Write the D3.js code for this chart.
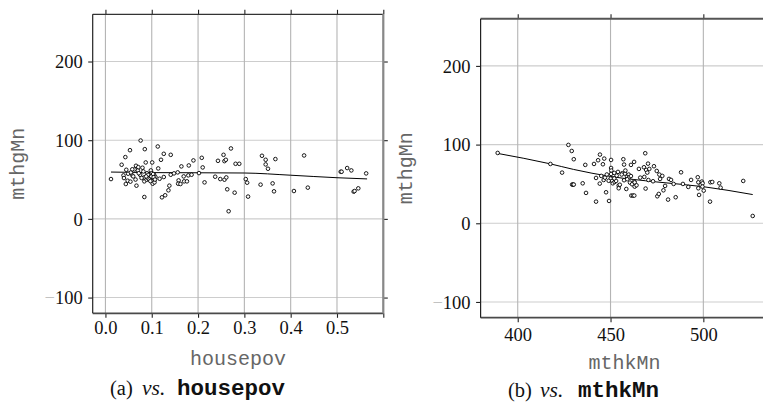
<!DOCTYPE html>
<html>
<head>
<meta charset="utf-8">
<script src="https://cdn.jsdelivr.net/npm/d3@7/dist/d3.min.js"></script>
<style>
  html, body { margin: 0; padding: 0; background: #fff; }
  svg { display: block; }
</style>
</head>
<body>
<svg id="chart" width="763" height="405"></svg>
<script>
// ---- data -------------------------------------------------------------
// panel (a): school poverty share vs. mean math gain
const housepov = [
  0.012, 0.035, 0.043, 0.053, 0.039, 0.040, 0.045, 0.044, 0.048, 0.049,
  0.054, 0.058, 0.063, 0.067, 0.066, 0.070, 0.071, 0.076, 0.080, 0.082,
  0.085, 0.087, 0.084, 0.084, 0.084, 0.089, 0.092, 0.096, 0.098, 0.100,
  0.101, 0.102, 0.103, 0.105, 0.106, 0.108, 0.113, 0.114, 0.117, 0.120,
  0.122, 0.126, 0.126, 0.129, 0.136, 0.138, 0.141, 0.141, 0.148, 0.156,
  0.158, 0.157, 0.162, 0.164, 0.169, 0.170, 0.176, 0.179, 0.180, 0.186,
  0.190, 0.202, 0.208, 0.210, 0.214, 0.237, 0.243, 0.248, 0.255, 0.257,
  0.260, 0.257, 0.261, 0.263, 0.266, 0.271, 0.279, 0.281, 0.289, 0.303,
  0.306, 0.308, 0.335, 0.338, 0.346, 0.346, 0.351, 0.361, 0.364, 0.367,
  0.407, 0.429, 0.437, 0.508, 0.510, 0.522, 0.531, 0.536, 0.538, 0.546,
  0.563, 0.060, 0.075, 0.078, 0.090, 0.095, 0.097, 0.099, 0.103, 0.104,
  0.107, 0.092, 0.065, 0.055, 0.072, 0.088, 0.058
];
const mthgMnA = [
  50.6, 68.8, 78.5, 87.3, 55.3, 51.9, 62.4, 44.3, 48.5, 57.4,
  47.3, 55.3, 62.9, 42.2, 67.5, 61.6, 65.8, 99.6, 65.0, 60.3,
  88.6, 71.7, 52.7, 47.7, 27.8, 49.8, 51.5, 55.3, 61.6, 58.2,
  71.7, 44.7, 51.9, 56.1, 46.4, 53.2, 92.0, 64.1, 51.0, 75.1,
  27.4, 82.7, 53.2, 30.0, 36.3, 42.2, 81.4, 56.1, 57.8, 59.1,
  48.9, 44.7, 44.3, 66.7, 54.0, 47.7, 47.7, 55.3, 67.9, 56.1,
  74.3, 58.2, 77.6, 65.4, 46.4, 53.6, 73.8, 50.6, 81.4, 73.4,
  75.1, 49.8, 52.7, 37.6, 9.7, 89.5, 33.3, 70.0, 70.0, 50.6,
  46.0, 28.3, 43.5, 80.2, 75.1, 69.2, 63.7, 45.1, 35.0, 76.0,
  35.4, 80.6, 39.7, 59.9, 59.9, 64.6, 61.6, 34.6, 35.4, 38.8,
  57.8, 54.0, 56.0, 52.0, 58.0, 50.0, 48.0, 54.0, 57.0, 53.0,
  50.0, 56.0, 50.0, 59.0, 58.0, 54.0, 63.0
];
// smoothed trend for panel (a)
const smoothXA = [0.012, 0.1, 0.2, 0.3, 0.4, 0.5, 0.565];
const smoothYA = [59.5, 58.8, 58.6, 58.3, 55.5, 52.3, 50.8];

// panel (b): mean kindergarten math score vs. mean math gain
const mthkMn = [
  389.2, 417.6, 423.9, 427.3, 429.1, 430.2, 429.3, 429.8, 430.2, 435.0,
  436.4, 436.8, 441.1, 442.2, 442.2, 443.3, 444.2, 444.3, 445.0, 445.9,
  446.6, 446.3, 447.6, 449.2, 450.3, 450.3, 450.4, 450.3, 450.1, 450.8,
  451.2, 452.2, 453.3, 454.0, 454.4, 454.4, 453.0, 456.4, 456.9, 457.3,
  457.3, 457.8, 458.5, 458.9, 459.8, 460.1, 460.5, 461.0, 461.6, 461.2,
  462.1, 462.8, 462.7, 462.8, 463.0, 464.0, 465.3, 468.0, 468.2, 468.7,
  468.9, 469.2, 469.8, 470.2, 470.4, 470.9, 472.9, 473.4, 474.9, 475.2,
  476.0, 476.3, 476.7, 477.9, 478.5, 479.4, 481.0, 481.5, 482.6, 484.0,
  485.1, 488.0, 489.0, 491.9, 493.4, 497.0, 497.3, 497.7, 497.3, 498.6,
  499.2, 499.6, 499.5, 500.2, 503.6, 503.8, 504.8, 508.6, 509.3, 521.5,
  526.6, 447.0, 449.0, 452.0, 455.0, 456.0, 459.0, 461.0, 463.0, 466.0,
  448.0, 452.0, 458.0
];
const mthgMnB = [
  89.4, 75.4, 64.4, 99.6, 91.9, 81.4, 49.2, 49.2, 49.2, 50.8,
  74.2, 38.6, 75.4, 57.6, 27.5, 80.1, 50.4, 87.3, 60.2, 75.0,
  82.2, 55.0, 39.4, 28.4, 80.5, 70.3, 67.0, 62.7, 56.8, 53.8,
  50.8, 52.5, 60.6, 65.3, 47.9, 44.5, 53.8, 63.6, 81.4, 74.6,
  54.7, 63.1, 43.6, 59.3, 61.9, 58.5, 51.7, 74.2, 49.6, 35.2,
  35.2, 35.2, 78.0, 53.0, 46.6, 48.3, 69.1, 71.2, 58.9, 89.0,
  44.1, 67.8, 64.4, 75.8, 55.0, 69.1, 53.4, 72.5, 66.5, 34.3,
  37.3, 61.9, 56.4, 60.2, 41.9, 47.5, 30.1, 56.4, 55.1, 50.0,
  33.1, 64.8, 50.0, 46.2, 55.1, 58.5, 52.1, 36.0, 44.5, 48.7,
  53.0, 50.8, 46.6, 41.5, 27.5, 52.1, 52.5, 50.8, 45.3, 53.8,
  9.3, 58.0, 54.0, 57.0, 49.0, 62.0, 56.0, 60.0, 52.0, 58.0,
  62.0, 64.0, 67.0
];
// smoothed trend for panel (b)
const smoothXB = [389.2, 417.4, 430, 450, 475, 500, 526.6];
const smoothYB = [88.8, 75.6, 68.5, 59.5, 52.5, 46.5, 36.5];

// axis ticks
const yTicks = [-100, 0, 100, 200];
const xTicksA = [0, 0.1, 0.2, 0.3, 0.4, 0.5, 0.6];
const xLabelsA = ["0.0", "0.1", "0.2", "0.3", "0.4", "0.5", ""];
const xTicksB = [400, 450, 500];
const xLabelsB = ["400", "450", "500"];

// ---- drawing ----------------------------------------------------------
const svg = d3.select("#chart");
const SERIF = "'Liberation Serif', 'Times New Roman', serif";
const MONO = "'Liberation Mono', 'Courier New', monospace";

function drawPanel(cfg) {
  const x = d3.scaleLinear().domain(cfg.xDomain).range([cfg.left, cfg.right]);
  const y = d3.scaleLinear().domain([-120, 260]).range([cfg.bottom, cfg.top]);
  const g = svg.append("g");

  // grid
  g.append("g").selectAll("line").data(yTicks).join("line")
    .attr("x1", cfg.left).attr("x2", cfg.right)
    .attr("y1", d => y(d)).attr("y2", d => y(d))
    .attr("stroke", "#cdcdcd").attr("stroke-width", 1.1);
  g.append("g").selectAll("line").data(cfg.xTicks).join("line")
    .attr("x1", d => x(d)).attr("x2", d => x(d))
    .attr("y1", cfg.top).attr("y2", cfg.bottom)
    .attr("stroke", "#b4b4b4").attr("stroke-width", 1.1);

  const tickFmt = (ticks, labels) => d => labels[ticks.indexOf(d)];

  // bottom axis with labels
  const bx = g.append("g").attr("transform", `translate(0,${cfg.bottom})`)
    .call(d3.axisBottom(x).tickValues(cfg.xTicks).tickSize(4.5).tickPadding(0)
      .tickFormat(tickFmt(cfg.xTicks, cfg.xLabels)));
  bx.selectAll("text").attr("y", cfg.xLabelDy).attr("dy", null);

  // top ticks
  g.append("g").attr("transform", `translate(0,${cfg.top})`)
    .call(d3.axisTop(x).tickValues(cfg.xTicks).tickSize(4.5).tickFormat(""));

  // left axis with labels
  const ly = g.append("g").attr("transform", `translate(${cfg.left},0)`)
    .call(d3.axisLeft(y).tickValues(yTicks).tickSize(4.5).tickPadding(5.5)
      .tickFormat(d => d));
  ly.selectAll("text").attr("dy", "0.34em").each(function (d) {
    const t = d3.select(this);
    t.text(null);
    if (d < 0) {
      t.append("tspan").attr("fill", "#b5b5b5").text("\u2212");
      t.append("tspan").text(Math.abs(d));
    } else {
      t.append("tspan").text(d);
    }
  });

  // right ticks
  g.append("g").attr("transform", `translate(${cfg.right},0)`)
    .call(d3.axisRight(y).tickValues(yTicks).tickSize(4.5).tickFormat(""));

  g.selectAll(".domain").remove();
  g.selectAll(".tick line").attr("stroke", "#222").attr("stroke-width", 1.1);
  g.selectAll(".tick text")
    .attr("font-family", SERIF).attr("font-size", 18.5).attr("fill", "#111");

  // frame
  const frame = g.append("g").attr("fill", "none");
  frame.append("line").attr("x1", cfg.left).attr("x2", cfg.right)
    .attr("y1", cfg.top).attr("y2", cfg.top)
    .attr("stroke", cfg.topColor).attr("stroke-width", cfg.topWidth);
  frame.append("line").attr("x1", cfg.left).attr("x2", cfg.right)
    .attr("y1", cfg.bottom).attr("y2", cfg.bottom)
    .attr("stroke", "#4a4a4a").attr("stroke-width", 1.8);
  frame.append("line").attr("x1", cfg.left).attr("x2", cfg.left)
    .attr("y1", cfg.top).attr("y2", cfg.bottom)
    .attr("stroke", "#222").attr("stroke-width", 1.2);
  frame.append("line").attr("x1", cfg.right).attr("x2", cfg.right)
    .attr("y1", cfg.top).attr("y2", cfg.bottom)
    .attr("stroke", "#888").attr("stroke-width", 2.2);

  // smooth trend
  const pts = cfg.sx.map((v, i) => [v, cfg.sy[i]]);
  g.append("path").datum(pts)
    .attr("d", d3.line().x(d => x(d[0])).y(d => y(d[1])).curve(d3.curveMonotoneX))
    .attr("fill", "none").attr("stroke", "#000").attr("stroke-width", 1);

  // points
  const data = cfg.xs.map((v, i) => [v, cfg.ys[i]]);
  g.append("g").selectAll("circle").data(data).join("circle")
    .attr("cx", d => x(d[0])).attr("cy", d => y(d[1])).attr("r", 1.8)
    .attr("fill", "#fff").attr("stroke", "#000").attr("stroke-width", 0.9);

  // axis titles
  g.append("text")
    .attr("x", (cfg.left + cfg.right) / 2).attr("y", cfg.xTitleY)
    .attr("text-anchor", "middle")
    .attr("font-family", MONO).attr("font-size", 20).attr("fill", "#666")
    .text(cfg.xTitle);
  g.append("text")
    .attr("transform", `translate(${cfg.yTitleX},${(cfg.top + cfg.bottom) / 2}) rotate(-90)`)
    .attr("text-anchor", "middle")
    .attr("font-family", MONO).attr("font-size", 20).attr("fill", "#666")
    .text("mthgMn");

  // caption: "(x) vs. name"
  const cap = g.append("text").attr("y", cfg.capY)
    .attr("font-family", SERIF).attr("font-size", 20.5).attr("fill", "#111");
  cap.append("tspan").attr("x", cfg.capX[0]).text(cfg.capTag);
  cap.append("tspan").attr("x", cfg.capX[1]).attr("font-style", "italic")
    .attr("font-size", 21.5).text("vs.");
  cap.append("tspan").attr("x", cfg.capX[2]).attr("font-family", MONO)
    .attr("font-weight", "bold").attr("font-size", 22.5).text(cfg.xTitle);
}

drawPanel({
  left: 92.7, right: 383.3, top: 14.3, bottom: 313.3,
  xDomain: [-0.0275, 0.6],
  xTicks: xTicksA, xLabels: xLabelsA, xLabelDy: 21,
  xs: housepov, ys: mthgMnA, sx: smoothXA, sy: smoothYA,
  xTitle: "housepov", xTitleY: 365, yTitleX: 24,
  capTag: "(a)", capX: [110, 142, 177], capY: 395,
  topColor: "#333", topWidth: 1.3
});

drawPanel({
  left: 480.6, right: 768.3, top: 18.7, bottom: 317.7,
  xDomain: [380, 535],
  xTicks: xTicksB, xLabels: xLabelsB, xLabelDy: 23,
  xs: mthkMn, ys: mthgMnB, sx: smoothXB, sy: smoothYB,
  xTitle: "mthkMn", xTitleY: 369, yTitleX: 412,
  capTag: "(b)", capX: [508, 540, 578], capY: 397,
  topColor: "#555", topWidth: 2
});
</script>
</body>
</html>
